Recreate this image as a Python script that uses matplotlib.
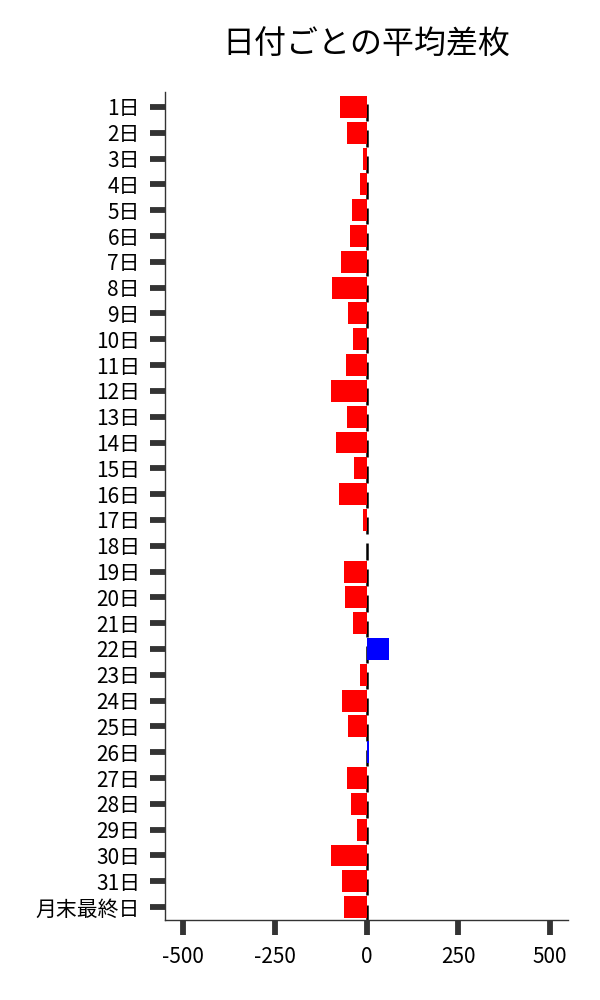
import matplotlib
matplotlib.use("Agg")
import matplotlib.pyplot as plt

plt.rcParams['font.family'] = ['Noto Sans CJK JP', 'DejaVu Sans']
plt.rcParams['axes.unicode_minus'] = False

days = [f"{d}日" for d in range(1, 32)] + ["月末最終日"]
values = [-72, -53, -10, -18, -40, -45, -70, -94, -51, -37, -56, -97,
          -53, -83, -34, -75, -10, 2, -61, -59, -37, 62, -18, -67,
          -51, 7, -53, -42, -26, -97, -67, -61]

colors = ['blue' if v > 0 else 'red' for v in values]
ypos = list(range(len(days)))

fig = plt.figure(figsize=(6, 10), dpi=100)
ax = fig.add_axes([0.275, 0.08, 0.672, 0.828])

# short black marks at zero for each row
for y in ypos:
    ax.plot([0, 0], [y - 0.1, y + 0.55], color='black', lw=1.8, zorder=1,
            solid_capstyle='butt')
ax.barh(ypos, values, height=0.85, color=colors, zorder=2)

ax.set_xlim(-550, 550)
ax.set_ylim(len(days) - 0.5, -0.58)
ax.set_yticks(ypos)
ax.set_yticklabels(days)
ax.set_xticks([-500, -250, 0, 250, 500])
ax.set_xticklabels(['-500', '-250', '0', '250', '500'])

for s in ['top', 'right']:
    ax.spines[s].set_visible(False)
for s in ['left', 'bottom']:
    ax.spines[s].set_color('#333333')
    ax.spines[s].set_linewidth(1.0)

ax.tick_params(axis='both', length=11, width=4.2, color='#333333',
               labelsize=15, labelcolor='black')
ax.tick_params(axis='y', pad=7)
ax.tick_params(axis='x', pad=8)

fig.text(0.611, 0.955, '日付ごとの平均差枚', ha='center', va='center', fontsize=23)

fig.savefig('out.png', dpi=100)
